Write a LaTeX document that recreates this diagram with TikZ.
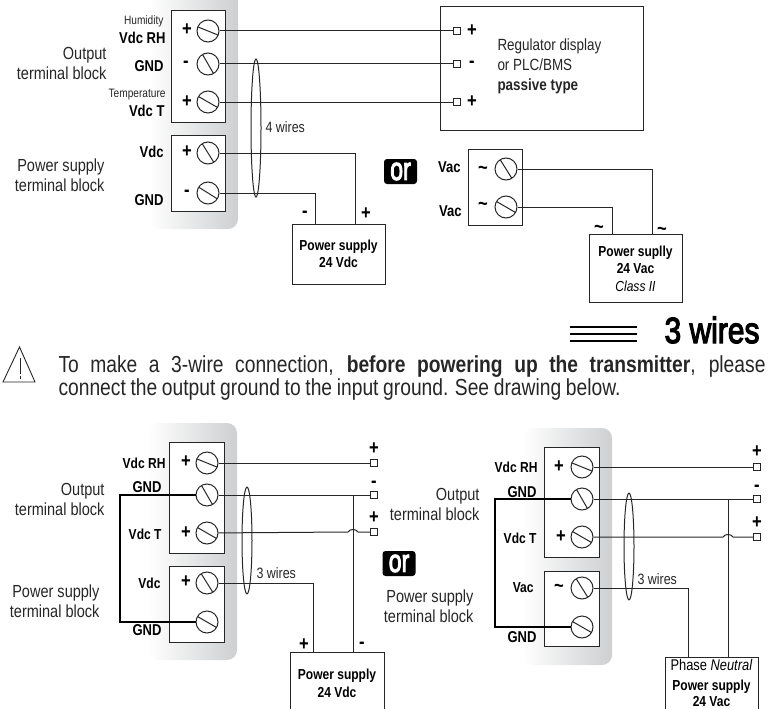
\documentclass[tikz,border=0pt]{standalone}
\usepackage{fontspec}
\setmainfont[FakeStretch=0.83]{Liberation Sans}
\newfontfamily\heavyfont[FakeBold=3.5]{Liberation Sans}
\usetikzlibrary{shapes.geometric}
\definecolor{inkgrey}{HTML}{262626}
\definecolor{panelgrey}{HTML}{CDCFD1}

\begin{document}
\begin{tikzpicture}[x=1pt,y=-1pt,line width=1pt,draw=inkgrey,auto,
        every node/.style={inner sep=0pt,text=inkgrey},
        panel/.style={left color=white,right color=panelgrey,rounded corners=10pt},
        txt/.style={font=\fontsize{17.5}{20}\selectfont,align=right,anchor=east},
        tag/.style={font=\fontsize{15.7}{18}\selectfont\bfseries,anchor=east,text=black},
        tagb/.style={font=\fontsize{14.5}{18}\selectfont\bfseries,anchor=east,text=black},
        tiny/.style={font=\fontsize{12.2}{14}\selectfont,anchor=east},
        sign/.style={font=\fontsize{20}{20}\selectfont\bfseries,text=black},
        note/.style={font=\fontsize{15}{18}\selectfont,anchor=west},
        block/.style={draw,fill=white},
        screw/.style={circle,draw,minimum size=22pt,path picture={
            \draw (path picture bounding box.center) ++(#1:11pt) -- ++(#1+180:22pt);}},
        pin/.style={draw,fill=white,minimum size=7.5pt},
        cable/.style={ellipse,draw,minimum width=10pt},
        supply/.style={draw,align=center,font=\fontsize{14.5}{17.5}\selectfont\bfseries,text=black},
        orbadge/.style={fill=black,rounded corners=3pt,minimum width=33pt,minimum height=25pt,
            text=white,font=\heavyfont\fontsize{22}{22}\selectfont},
        ground/.style={line width=1.9pt,draw=black},
        elbow/.style={to path={-| (\tikztotarget)}}]

  \useasboundingbox (0,0) rectangle (768,709);
  \clip (0,0) rectangle (768,709);

  \shade[panel] (150,-20) rectangle (238,229);
  \shade[panel] (148,423) rectangle (237,660);
  \shade[panel] (523,428) rectangle (612,665);

  % top left
  \node[block,minimum width=54pt,minimum height=111pt] (outblock) at (198,66.5) {};
  \node[block,minimum width=54pt,minimum height=76pt] (inblock) at (198,173) {};
  \node[screw=-22] (s_rh) at (208,31) {};
  \node[screw=-60] (s_gnd) at (208,64) {};
  \node[screw=-30] (s_t) at (208,102) {};
  \node[screw=-58] (s_vdc) at (208,153) {};
  \node[screw=-32] (s_ref) at (208,193) {};
  \node[sign] (p_rh) at (187,30) {+};
  \node[sign] (m_gnd) at (186,64) {-};
  \node[sign] (p_t) at (187,102) {+};
  \node[sign] (p_vdc) at (187,152) {+};
  \node[sign] (m_ref) at (187,193) {-};
  \node[txt] (out_lab) at (107,63) {Output\\terminal block};
  \node[txt] (in_lab) at (105,175.5) {Power supply\\terminal block};
  \node[tiny] (hum) at (164,21) {Humidity};
  \node[tag] (vdc_rh) at (166,38) {Vdc RH};
  \node[tag] (gnd_a) at (164,66) {GND};
  \node[tiny] (temp) at (166,95) {Temperature};
  \node[tag] (vdc_t) at (165,111) {Vdc T};
  \node[tag] (vdc_a) at (164,152) {Vdc};
  \node[tag] (gnd_b) at (164,200) {GND};

  \node[block,minimum width=203pt,minimum height=123pt] (display) at (541.5,68.5) {};
  \node[pin] (d_rh) at (457,31) {};
  \node[pin] (d_gnd) at (457,64) {};
  \node[pin] (d_t) at (457,102) {};
  \node[sign] (dp_rh) at (472,31) {+};
  \node[sign] (dm_gnd) at (472,64) {-};
  \node[sign] (dp_t) at (472,102) {+};
  \node[anchor=west,align=left,font=\fontsize{16.2}{20}\selectfont] (d_text) at (497,66)
    {Regulator display\\or PLC/BMS\\\textbf{passive type}};

  \node[supply,minimum width=93pt,minimum height=60pt] (dc_a) at (338.5,254) {Power supply\\24 Vdc};
  \coordinate (dc_a_p) at (355,224);
  \coordinate (dc_a_m) at (315,224);
  \node[sign] (dcm) at (305,214) {-};
  \node[sign] (dcp) at (366,214) {+};

  \path (s_rh) edge (d_rh)
        (s_gnd) edge (d_gnd)
        (s_t) edge (d_t)
        (s_vdc) edge[elbow] (dc_a_p)
        (s_ref) edge[elbow] (dc_a_m);
  \node[cable,minimum height=138pt] (wires_a) at (256,128) {};
  \node[note] (wires_a_lab) at (265,127) {4 wires};
  \node[orbadge] (or_a) at (400.5,171.5) {\scalebox{1.05}[1.45]{or}};

  % top right
  \node[block,minimum width=54pt,minimum height=76pt] (acblock) at (495,187) {};
  \node[screw=-58] (s_aca) at (506,169) {};
  \node[screw=-30] (s_acb) at (506,207) {};
  \node[sign] (ti_a) at (483,170) {\char`\~};
  \node[sign] (ti_b) at (483,206) {\char`\~};
  \node[tag] (vac_a) at (461,167) {Vac};
  \node[tag] (vac_b) at (462,211) {Vac};
  \node[supply,minimum width=93pt,minimum height=68pt] (ac_a) at (635.5,268.5)
    {Power suplly\\24 Vac\\{\mdseries\itshape Class II}};
  \coordinate (ac_a_p) at (652,235);
  \coordinate (ac_a_m) at (612,235);
  \node[sign] (ac_tm) at (599,229) {\char`\~};
  \node[sign] (ac_tp) at (662,231) {\char`\~};
  \path (s_aca) edge[elbow] (ac_a_p)
        (s_acb) edge[elbow] (ac_a_m);

  % heading and warning
  \foreach \ly in {327,334,341}
    \draw[line width=2.4pt,draw=black] (570,\ly) -- (637,\ly);
  \node[anchor=east,text=black,font=\heavyfont\fontsize{28}{28}\selectfont] (title) at (760,330)
    {\scalebox{1.07}[1.3]{3 wires}};
  \draw[line width=0.9pt,line join=miter] (3,382) -- (19.5,347) -- (35,382) -- cycle;
  \draw[line width=0.9pt] (20,358) -- (20,374) (20,376) -- (20,379);
  \node[anchor=north west,text width=707pt,align=justify,font=\fontsize{23.2}{21.5}\selectfont] (warn) at (58,355)
    {To make a 3-wire connection, \textbf{before powering up the transmitter}, please\linebreak
     \spaceskip=0.2em connect the output ground to the input ground. See drawing below.};

  % bottom left
  \node[block,minimum width=55pt,minimum height=111pt] (out3) at (196.5,497.5) {};
  \node[block,minimum width=55pt,minimum height=76pt] (in3) at (196.5,604) {};
  \node[screw=-22] (l_rh) at (207,463) {};
  \node[screw=-60] (l_gnd) at (207,495) {};
  \node[screw=-30] (l_t) at (207,533) {};
  \node[screw=-58] (l_vdc) at (207,583) {};
  \node[screw=-30] (l_ref) at (207,622) {};
  \node[sign] (lp_rh) at (186,462) {+};
  \node[sign] (lp_t) at (186,533) {+};
  \node[sign] (lp_vdc) at (186,582) {+};
  \node[txt] (out3_lab) at (105,499) {Output\\terminal block};
  \node[txt] (in3_lab) at (100,601.5) {Power supply\\terminal block};
  \node[tagb] (l_vdcrh) at (166,463) {Vdc RH};
  \node[tag] (l_gnd_a) at (162,487) {GND};
  \node[tagb] (l_vdct) at (162,534) {Vdc T};
  \node[tagb] (l_vdc_lab) at (161,583) {Vdc};
  \node[tag] (l_gnd_b) at (162,630) {GND};
  \node[pin] (lt_rh) at (374,463) {};
  \node[pin] (lt_gnd) at (374,495) {};
  \node[pin] (lt_t) at (374,532) {};
  \node[sign] (ltp_rh) at (374,449) {+};
  \node[sign] (ltm_gnd) at (374,484) {-};
  \node[sign] (ltp_t) at (374,518) {+};
  \node[supply,minimum width=94pt,minimum height=62pt,anchor=north] (dc_b) at (337,652) {Power supply\\24 Vdc};
  \coordinate (dc_b_p) at (313,652);
  \coordinate (dc_b_m) at (353,652);
  \coordinate (l_tee) at (353,495);
  \coordinate (l_jump_a) at (348,532);
  \coordinate (l_jump_b) at (358,532);
  \coordinate (l_west) at (120,495);
  \coordinate (l_south) at (120,622);
  \node[sign] (dcb_p) at (304,645) {+};
  \node[sign] (dcb_m) at (362,645) {-};
  \path (l_rh) edge (lt_rh)
        (l_gnd) edge (lt_gnd)
        (l_tee) edge (dc_b_m)
        (l_vdc) edge[elbow] (dc_b_p);
  \draw (l_t) -- (l_jump_a) to[bend left=60] (l_jump_b) -- (lt_t);
  \draw[ground] (l_gnd) -- (l_west) -- (l_south) -- (l_ref);
  \node[cable,minimum height=107pt] (wires_b) at (247,540.5) {};
  \node[note] (wires_b_lab) at (256,573) {3 wires};
  \node[orbadge] (or_b) at (399,563.5) {\scalebox{1.05}[1.45]{or}};

  % bottom right
  \node[block,minimum width=55pt,minimum height=110pt] (out4) at (571.5,502) {};
  \node[block,minimum width=55pt,minimum height=75pt] (in4) at (571.5,608.5) {};
  \node[screw=-22] (r_rh) at (582,467) {};
  \node[screw=-60] (r_gnd) at (582,499) {};
  \node[screw=-30] (r_t) at (582,537) {};
  \node[screw=-58] (r_vac) at (582,588) {};
  \node[screw=-30] (r_ref) at (582,627) {};
  \node[sign] (rp_rh) at (559,467) {+};
  \node[sign] (rp_t) at (561,537) {+};
  \node[sign] (rt_vac) at (559,588) {\char`\~};
  \node[txt] (out4_lab) at (480,504.5) {Output\\terminal block};
  \node[txt] (in4_lab) at (474,606.5) {Power supply\\terminal block};
  \node[tagb] (r_vdcrh) at (538,467) {Vdc RH};
  \node[tag] (r_gnd_a) at (537,492) {GND};
  \node[tagb] (r_vdct) at (537,538) {Vdc T};
  \node[tagb] (r_vac_lab) at (534,588) {Vac};
  \node[tag] (r_gnd_b) at (537,637) {GND};
  \node[pin] (rt_rh) at (757,467) {};
  \node[pin] (rt_gnd) at (757,499) {};
  \node[pin] (rt_t) at (757,537) {};
  \node[sign] (rtp_rh) at (757,452) {+};
  \node[sign] (rtm_gnd) at (757,488) {-};
  \node[sign] (rtp_t) at (757,523) {+};
  \node[supply,minimum width=93pt,minimum height=60pt,anchor=north] (ac_b) at (711.5,657) {};
  \node[align=center,font=\fontsize{14.5}{16}\selectfont\bfseries,text=black] (ac_b_text) at (711.5,682.5)
    {{\mdseries\fontsize{15.5}{16}\selectfont Phase \textit{Neutral}}\\[4pt]Power supply\\24 Vac};
  \coordinate (ac_b_ph) at (688,657);
  \coordinate (ac_b_n) at (728,657);
  \coordinate (r_tee) at (728,499);
  \coordinate (r_jump_a) at (723,537);
  \coordinate (r_jump_b) at (733,537);
  \coordinate (r_west) at (495,499);
  \coordinate (r_south) at (495,627);
  \path (r_rh) edge (rt_rh)
        (r_gnd) edge (rt_gnd)
        (r_tee) edge (ac_b_n)
        (r_vac) edge[elbow] (ac_b_ph);
  \draw (r_t) -- (r_jump_a) to[bend left=60] (r_jump_b) -- (rt_t);
  \draw[ground] (r_gnd) -- (r_west) -- (r_south) -- (r_ref);
  \node[cable,minimum height=107pt] (wires_c) at (629,546.5) {};
  \node[note] (wires_c_lab) at (637,579) {3 wires};

\end{tikzpicture}
\end{document}
